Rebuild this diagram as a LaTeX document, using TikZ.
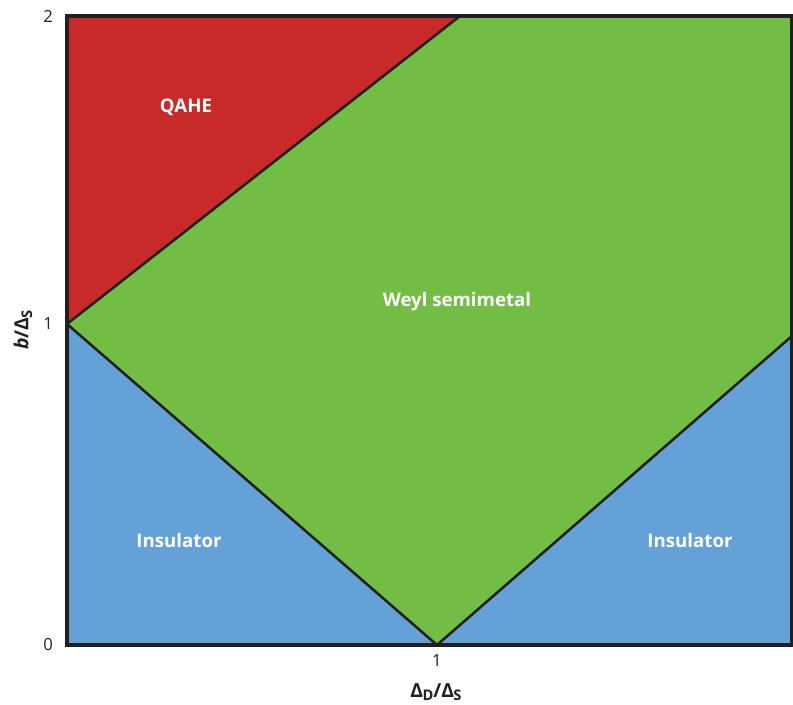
\documentclass[tikz,border=0pt]{standalone}
\usepackage{fontspec}
\setmainfont{Open Sans}
\usetikzlibrary{positioning}
\definecolor{qahe}{HTML}{C72A28}
\definecolor{weyl}{HTML}{72BE45}
\definecolor{insul}{HTML}{64A1D6}
\definecolor{edge}{HTML}{231F20}
\newcommand{\subsans}[1]{\kern-0.5pt\raisebox{-0.35ex}{\fontsize{11}{13}\selectfont #1}}

\begin{document}
\begin{tikzpicture}[x=0.75pt,y=-0.75pt,
    phase/.style={text=white,font=\fontsize{14}{16}\selectfont\bfseries},
    tick/.style={text=edge,font=\fontsize{12.5}{14}\selectfont},
    axlabel/.style={text=edge,font=\fontsize{14.5}{16}\selectfont\bfseries},
    boundary/.style={draw=edge,line width=1.9pt,line join=round}]
    \useasboundingbox (0,0) rectangle (793,705);
    % corners of the phase diagram
    \coordinate (tl) at (67,16);
    \coordinate (tr) at (792,16);
    \coordinate (br) at (792,645);
    \coordinate (bl) at (67,645);
    \coordinate (left) at (67,324);
    \coordinate (top) at (460,16);
    \coordinate (vert) at (437,645);
    \coordinate (right) at (792,336);
    % phases
    \fill[qahe] (tl)--(top)--(left)--cycle;
    \fill[weyl] (left)--(top)--(tr)--(right)--(vert)--cycle;
    \fill[insul] (left)--(vert)--(bl)--cycle;
    \fill[insul] (vert)--(br)--(right)--cycle;
    \draw[boundary] (left)--(top);
    \draw[boundary] (left)--(vert)--(right);
    \draw[draw=edge,line width=2.3pt] (tl) rectangle (br);
    % labels
    \node[phase] (lq) at (186,107) {QAHE};
    \node[phase] (lw) at (457,302) {Weyl semimetal};
    \node[phase] (li1) at (179,541) {Insulator};
    \node[phase] (li2) at (690,541) {Insulator};
    % ticks
    \node[tick,left=7pt of tl] (y2) {2};
    \node[tick,left=7pt of left] (y1) {1};
    \node[tick,left=7pt of bl] (y0) {0};
    \node[tick,below=4pt of vert] (x1) {1};
    \node[tick] (x2) at (799,662) {2};
    \node[axlabel] (xlab) at (436,692) {Δ\subsans{D}/Δ\subsans{S}};
    \node[axlabel,rotate=90] (ylab) at (23,330) {\itshape b\upshape/Δ\subsans{S}};
\end{tikzpicture}
\end{document}
